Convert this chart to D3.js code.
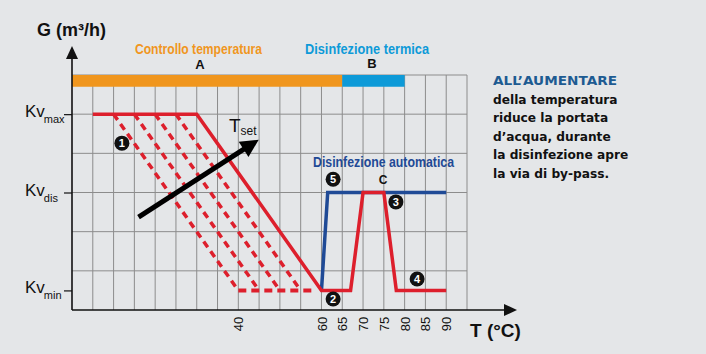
<!doctype html>
<html lang="it">
<head>
  <meta charset="UTF-8">
  <script src="https://cdn.jsdelivr.net/npm/d3@7"></script>
  <title>Portata / temperatura</title>
  <style>
    body { margin: 0; background: #e4e6e8; }
    .chart svg { display: block; background: #e4e6e8; }
    .grid line { stroke: #8c8c8c; stroke-width: 1; }
    .cond { font-family: "Liberation Sans Narrow", "Liberation Sans", sans-serif; font-weight: bold; }
  </style>
</head>
<body>
  <div class="chart"></div>
  <script>
    // --- data ---
    const tempTicks = [40, 60, 65, 70, 75, 80, 85, 90];
    const kvNames = ['max', 'dis', 'min'];
    const kvValues = [5, 3, 0.5];

    // main regulation curve (T in °C, G in grid units)
    const mainT = [5, 30, 60, 67, 70, 75, 78, 90];
    const mainG = [5, 5, 0.5, 0.5, 3, 3, 0.5, 0.5];
    // by-pass during automatic disinfection
    const bypassT = [60, 61.5, 90];
    const bypassG = [0.5, 3, 3];
    // dashed curves for lower Tset
    const tsetStartT = [10, 15, 20, 25];
    const tsetEndT = [40, 45, 50, 55];
    const dashedFloorT = [40, 58];

    // phase bars
    const phaseNames = ['Controllo temperatura', 'Disinfezione termica'];
    const phaseLetters = ['A', 'B'];
    const phaseFrom = [0, 65];
    const phaseTo = [65, 80];
    const phaseColors = ['#f0961e', '#0d9ad8'];

    // numbered markers
    const markerNums = ['1', '2', '3', '4', '5'];
    const markerT = [12, 62.8, 77.9, 83, 62.8];
    const markerG = [4.26, 0.28, 2.76, 0.79, 3.34];

    const infoTitle = 'ALL\u2019AUMENTARE';
    const infoLines = ['della temperatura', 'riduce la portata', 'd\u2019acqua, durante', 'la disinfezione apre', 'la via di by-pass.'];

    const W = 706, H = 354;
    const svg = d3.select('.chart').append('svg').attr('width', W).attr('height', H);

    const x = d3.scaleLinear().domain([0, 95]).range([72, 467]);
    const y = d3.scaleLinear().domain([0, 6]).range([310, 75]);
    const red = '#dd1f2c', blue = '#1f4a96';

    // grid
    const grid = svg.append('g').attr('class', 'grid');
    grid.selectAll('line.v').data(d3.range(5, 96, 5)).enter().append('line')
      .attr('x1', d => x(d)).attr('x2', d => x(d)).attr('y1', y(0)).attr('y2', y(6));
    grid.selectAll('line.h').data(d3.range(1, 7)).enter().append('line')
      .attr('x1', x(0)).attr('x2', x(95)).attr('y1', d => y(d)).attr('y2', d => y(d));

    // phase bars
    phaseNames.forEach((name, i) => {
      svg.append('rect').attr('x', x(phaseFrom[i])).attr('width', x(phaseTo[i]) - x(phaseFrom[i]))
        .attr('y', y(6)).attr('height', y(5.7) - y(6)).attr('fill', phaseColors[i]);
    });
    svg.append('text').attr('class', 'cond').attr('x', 135).attr('y', 54).attr('font-size', 15)
      .attr('fill', phaseColors[0]).attr('textLength', 127).attr('lengthAdjust', 'spacingAndGlyphs').text(phaseNames[0]);
    svg.append('text').attr('class', 'cond').attr('x', 305).attr('y', 54).attr('font-size', 15)
      .attr('fill', phaseColors[1]).attr('textLength', 124).attr('lengthAdjust', 'spacingAndGlyphs').text(phaseNames[1]);
    svg.append('text').attr('class', 'cond').attr('x', 200).attr('y', 69).attr('font-size', 13)
      .attr('text-anchor', 'middle').attr('fill', '#111').text(phaseLetters[0]);
    svg.append('text').attr('class', 'cond').attr('x', 372).attr('y', 68).attr('font-size', 13)
      .attr('text-anchor', 'middle').attr('fill', '#111').text(phaseLetters[1]);

    // curves
    const line = d3.line().x(d => x(d[0])).y(d => y(d[1]));
    tsetStartT.forEach((t, i) => {
      svg.append('path').attr('d', line([[t, kvValues[0]], [tsetEndT[i], kvValues[2]]]))
        .attr('fill', 'none').attr('stroke', red).attr('stroke-width', 3.5).attr('stroke-dasharray', '7,5');
    });
    svg.append('path').attr('d', line(dashedFloorT.map(t => [t, kvValues[2]])))
      .attr('fill', 'none').attr('stroke', red).attr('stroke-width', 4).attr('stroke-dasharray', '8,5');
    svg.append('path').attr('d', line(bypassT.map((t, i) => [t, bypassG[i]])))
      .attr('fill', 'none').attr('stroke', blue).attr('stroke-width', 3.5);
    svg.append('path').attr('d', line(mainT.map((t, i) => [t, mainG[i]])))
      .attr('fill', 'none').attr('stroke', red).attr('stroke-width', 3.5);

    // Tset arrow
    const defs = svg.append('defs');
    defs.append('marker').attr('id', 'head').attr('viewBox', '0 0 10 10').attr('refX', 2).attr('refY', 5)
      .attr('markerWidth', 4.5).attr('markerHeight', 3.6).attr('orient', 'auto').attr('markerUnits', 'strokeWidth')
      .append('path').attr('d', 'M0,0L10,5L0,10Z').attr('fill', '#000');
    svg.append('line').attr('x1', x(16)).attr('y1', y(2.37)).attr('x2', x(42)).attr('y2', y(4.15))
      .attr('stroke', '#000').attr('stroke-width', 5).attr('marker-end', 'url(#head)');
    const tset = svg.append('text').attr('x', 229).attr('y', 132).attr('font-family', 'Liberation Sans, sans-serif')
      .attr('font-size', 19).attr('fill', '#111');
    tset.append('tspan').text('T');
    tset.append('tspan').attr('font-size', 12).attr('dy', 3).text('set');

    svg.append('text').attr('class', 'cond').attr('x', 313).attr('y', 167).attr('font-size', 15)
      .attr('fill', blue).attr('textLength', 141).attr('lengthAdjust', 'spacingAndGlyphs').text('Disinfezione automatica');
    svg.append('text').attr('class', 'cond').attr('x', x(74.8)).attr('y', 184).attr('font-size', 12)
      .attr('text-anchor', 'middle').attr('fill', '#111').text('C');

    // numbered markers
    const mk = svg.selectAll('g.mk').data(markerNums).enter().append('g').attr('class', 'mk')
      .attr('transform', (d, i) => `translate(${x(markerT[i])},${y(markerG[i])})`);
    mk.append('circle').attr('r', 7.5).attr('fill', '#111');
    mk.append('text').attr('text-anchor', 'middle').attr('dy', '0.36em').attr('font-size', 11)
      .attr('font-weight', 'bold').attr('font-family', 'Liberation Sans, sans-serif').attr('fill', '#fff').text(d => d);

    // axes
    const xAxis = d3.axisBottom(x).tickValues(tempTicks).tickSize(0);
    const gx = svg.append('g').attr('transform', `translate(0,${y(0)})`).call(xAxis);
    gx.select('.domain').remove();
    gx.selectAll('text').attr('transform', 'rotate(-90)').attr('x', -14).attr('y', 0).attr('dy', '0.35em')
      .attr('text-anchor', 'middle').attr('font-size', 13).attr('font-family', 'Liberation Sans, sans-serif').attr('fill', '#111');

    const yAxis = d3.axisLeft(y).tickValues(kvValues).tickSize(8).tickFormat('');
    const gy = svg.append('g').attr('transform', `translate(${x(0)},0)`).call(yAxis);
    gy.select('.domain').remove();
    gy.selectAll('.tick line').attr('stroke', '#111').attr('stroke-width', 1.2);

    svg.append('line').attr('x1', x(0)).attr('x2', 506).attr('y1', y(0)).attr('y2', y(0)).attr('stroke', '#111').attr('stroke-width', 1.6);
    svg.append('path').attr('d', `M517,${y(0)}L504,${y(0) - 6}L504,${y(0) + 6}Z`).attr('fill', '#111');
    svg.append('line').attr('x1', x(0)).attr('x2', x(0)).attr('y1', y(0)).attr('y2', 57).attr('stroke', '#111').attr('stroke-width', 1.6);
    svg.append('path').attr('d', `M${x(0)},46L${x(0) - 6},59L${x(0) + 6},59Z`).attr('fill', '#111');

    kvNames.forEach((n, i) => {
      const t = svg.append('text').attr('x', 25).attr('y', y(kvValues[i]) + 3)
        .attr('font-family', 'Liberation Sans, sans-serif').attr('font-size', 17).attr('fill', '#111');
      t.append('tspan').text('Kv');
      t.append('tspan').attr('font-size', 11).attr('dy', 6).attr('dx', -1).text(n);
    });

    svg.append('text').attr('x', 37).attr('y', 36).attr('font-family', 'Liberation Sans, sans-serif')
      .attr('font-weight', 'bold').attr('font-size', 18).attr('fill', '#111').text('G (m\u00b3/h)');
    svg.append('text').attr('x', 470).attr('y', 337).attr('font-family', 'Liberation Sans, sans-serif')
      .attr('font-weight', 'bold').attr('font-size', 19).attr('fill', '#111').text('T (\u00b0C)');

    // side note
    svg.append('text').attr('x', 493).attr('y', 85).attr('font-family', 'DejaVu Sans, sans-serif').attr('font-weight', 'bold')
      .attr('font-size', 13).attr('fill', '#1d5b92').attr('textLength', 124).attr('lengthAdjust', 'spacingAndGlyphs').text(infoTitle);
    svg.selectAll('text.info').data(infoLines).enter().append('text').attr('class', 'info')
      .attr('x', 493).attr('y', (d, i) => 103.5 + i * 18.5)
      .attr('font-family', 'DejaVu Sans, sans-serif').attr('font-weight', 'bold').attr('font-size', 12.2)
      .attr('fill', '#111').text(d => d);
  </script>
</body>
</html>
